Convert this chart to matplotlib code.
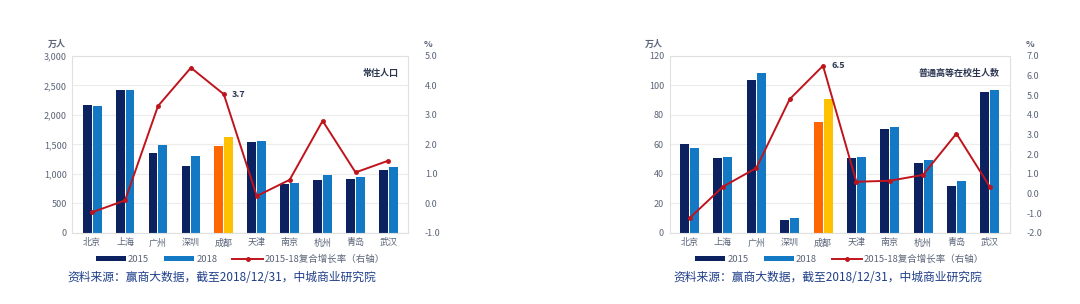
import numpy as np
import matplotlib
matplotlib.use("Agg")
from matplotlib import pyplot as plt
from matplotlib.ticker import FuncFormatter

plt.rcParams["font.family"] = ["Noto Sans CJK SC", "DejaVu Sans"]

# ---------------------------------------------------------------------------- #
# Data
# ---------------------------------------------------------------------------- #
cities = ["北京", "上海", "广州", "深圳", "成都", "天津", "南京", "杭州", "青岛", "武汉"]

pop_2015 = [2170, 2415, 1350, 1140, 1465, 1545, 825, 900, 910, 1060]
pop_2018 = [2150, 2420, 1490, 1300, 1630, 1560, 840, 980, 940, 1110]
pop_cagr = [-0.3, 0.1, 3.3, 4.6, 3.7, 0.25, 0.8, 2.8, 1.05, 1.45]

stu_2015 = [60, 50.5, 103.5, 9, 75, 51, 70.5, 47.5, 32, 95.5]
stu_2018 = [57.5, 51.5, 108.5, 10, 91, 51.5, 72, 49.5, 35, 97]
stu_cagr = [-1.25, 0.35, 1.3, 4.8, 6.5, 0.6, 0.65, 0.95, 3.05, 0.35]

legend_labels = ["2015", "2018", "2015-18复合增长率（右轴）"]
source = "资料来源：赢商大数据，截至2018/12/31，中城商业研究院"

C15 = "#0b2160"
C18 = "#1479c4"
C15_HL = "#ff6600"
C18_HL = "#ffc000"
RED = "#c0141c"
TICK = "#5a6478"
highlight = cities.index("成都")


def panel(rect, v15, v18, cagr, ylim, yticks, y2lim, y2ticks, fmt, title, note, note_idx, src_x):
    ax = fig.add_axes(rect)
    x = np.arange(len(cities))
    w = 0.27
    col15 = [C15_HL if i == highlight else C15 for i in x]
    col18 = [C18_HL if i == highlight else C18 for i in x]
    b1 = ax.bar(x - 0.15, v15, w, color=col15, zorder=2)
    b2 = ax.bar(x + 0.15, v18, w, color=col18, zorder=2)
    ax.set_ylim(*ylim)
    ax.set_yticks(yticks)
    ax.yaxis.set_major_formatter(FuncFormatter(fmt))
    ax.set_xlim(-0.6, len(cities) - 0.4)
    ax.set_xticks(x)
    ax.set_xticklabels(cities)
    ax.grid(axis="y", color="#ececec", lw=0.8, zorder=0)
    for s in ax.spines.values():
        s.set_color("#e0e0e0")
        s.set_linewidth(0.8)
    ax.tick_params(length=0, labelsize=6.5, colors=TICK, pad=4)

    ax2 = ax.twinx()
    ln, = ax2.plot(x, cagr, color=RED, lw=1.4, marker="o", ms=2.5, zorder=3)
    ax2.set_ylim(*y2lim)
    ax2.set_yticks(y2ticks)
    ax2.yaxis.set_major_formatter(FuncFormatter(lambda v, p: f"{v:.1f}"))
    for s in ax2.spines.values():
        s.set_visible(False)
    ax2.tick_params(length=0, labelsize=6.5, colors=TICK, pad=12)

    ax2.annotate(note, (x[note_idx], cagr[note_idx]), xytext=(6, 0),
                 textcoords="offset points", fontsize=6.5, color="#2a3550",
                 fontweight="bold", va="center")
    ax.text(0.97, 0.9, title, transform=ax.transAxes, ha="right", va="center",
            fontsize=6.5, color="#2a3550", fontweight="bold")
    ax.text(-0.02, 1.04, "万人", transform=ax.transAxes, ha="right", va="bottom",
            fontsize=6.5, color=TICK, fontweight="bold")
    ax.text(1.06, 1.04, "%", transform=ax.transAxes, ha="center", va="bottom",
            fontsize=6.5, color=TICK, fontweight="bold")

    ax.legend([b1[0], b2[0], ln], legend_labels, loc="upper center",
              bbox_to_anchor=(0.5, -0.085), ncol=3, frameon=False, fontsize=6.8,
              handlelength=3.2, handleheight=0.5, columnspacing=1.6,
              handletextpad=0.2, labelcolor=TICK, borderpad=0.2)
    ax.text(src_x, -0.255, source, transform=ax.transAxes, ha="left", va="center",
            fontsize=8.5, color="#1f3f8a")
    return ax


fig = plt.figure(figsize=(10.8, 3.04), dpi=100)

panel([0.067, 0.234, 0.311, 0.582], pop_2015, pop_2018, pop_cagr,
      (0, 3000), np.arange(0, 3001, 500), (-1, 5), np.arange(-1, 5.1, 1),
      lambda v, p: f"{v:,.0f}", "常住人口", "3.7", highlight, -0.015)

panel([0.620, 0.234, 0.315, 0.582], stu_2015, stu_2018, stu_cagr,
      (0, 120), np.arange(0, 121, 20), (-2, 7), np.arange(-2, 7.1, 1),
      lambda v, p: f"{v:.0f}", "普通高等在校生人数", "6.5", highlight, 0.01)

fig.savefig("out.png", dpi=100)
